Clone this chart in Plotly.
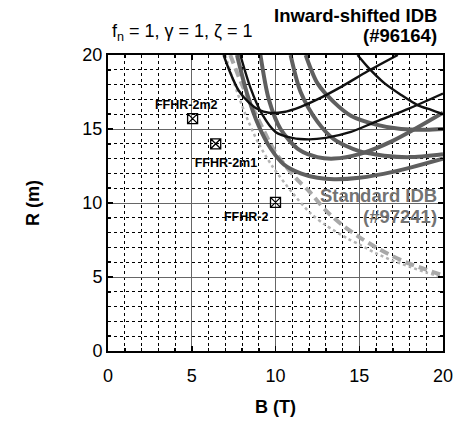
import plotly.graph_objects as go

# ---- data ----
b1_B = [6.9, 7.3, 7.8, 8.4, 9.0, 9.6, 10.5, 11.5, 12.5, 14.0, 15.5, 17.3]
b1_R = [20.0, 18.8, 17.6, 16.8, 16.3, 16.1, 16.15, 16.5, 17.0, 17.9, 18.9, 20.0]

b2_B = [7.9, 8.5, 9.2, 10.0, 11.0, 12.0, 13.0, 14.5, 16.0, 18.0, 20.0]
b2_R = [20.0, 17.8, 16.0, 14.8, 14.4, 14.3, 14.4, 14.8, 15.5, 16.4, 17.4]

b3_B = [14.9, 15.5, 16.5, 17.5, 18.5, 19.3, 20.0]
b3_R = [20.0, 19.2, 18.1, 17.3, 16.6, 16.3, 16.0]

ga_B = [9.1, 9.6, 10.3, 11.4, 12.5, 13.5, 15.0, 17.0, 20.0]
ga_R = [20.0, 17.0, 15.0, 13.6, 13.1, 13.0, 13.3, 14.2, 16.1]

gd_B = [7.7, 8.3, 9.0, 9.7, 10.5, 11.5, 12.5, 13.5, 15.0, 17.0, 20.0]
gd_R = [20.0, 17.4, 15.2, 13.7, 12.6, 12.0, 11.7, 11.6, 11.7, 12.1, 13.0]

gc_B = [10.9, 11.5, 12.5, 13.5, 15.0, 16.5, 18.0, 20.0]
gc_R = [20.0, 17.5, 15.5, 14.3, 13.5, 13.2, 13.1, 13.3]

gb_B = [11.8, 12.5, 13.5, 14.5, 16.0, 17.5, 19.0, 20.0]
gb_R = [20.0, 18.1, 16.8, 15.9, 15.3, 15.0, 14.95, 15.0]

std1_B = [7.3, 8.0, 9.0, 10.0, 11.2, 12.0, 13.0, 14.0, 15.0, 16.0, 17.0, 18.0, 19.0, 20.0]
std1_R = [20.0, 18.0, 15.6, 13.4, 11.7, 10.8, 9.5, 8.5, 7.7, 7.0, 6.4, 5.9, 5.5, 5.1]

std2_B = [7.0, 7.5, 8.2, 9.0, 9.8, 11.0, 12.1, 13.0, 14.3, 15.0, 16.0, 17.0, 18.0, 19.0, 20.0]
std2_R = [20.0, 18.2, 16.0, 14.0, 12.5, 10.7, 9.3, 8.5, 7.6, 7.2, 6.6, 6.1, 5.7, 5.3, 5.0]

dev_names = ["FFHR-2m2", "FFHR-2m1", "FFHR-2"]
dev_B = [5.05, 6.43, 10.0]
dev_R = [15.7, 14.0, 10.04]
lab_B = [4.67, 7.04, 8.25]
lab_R = [16.55, 12.67, 9.0]

FONT = "Liberation Sans, Arial, sans-serif"

fig = go.Figure()

def curve(xs, ys, color, width, dash="solid"):
    fig.add_trace(go.Scatter(x=xs, y=ys, mode="lines",
                             line=dict(color=color, width=width, dash=dash, shape="spline", smoothing=0.8),
                             showlegend=False, hoverinfo="skip"))

curve(std2_B, std2_R, "#b3b3b3", 2.5, "3px,3px")
curve(std1_B, std1_R, "#a8a8a8", 4, "9px,5px")
for xs, ys in [(ga_B, ga_R), (gd_B, gd_R), (gc_B, gc_R), (gb_B, gb_R)]:
    curve(xs, ys, "#5f5f5f", 4)
for xs, ys in [(b1_B, b1_R), (b2_B, b2_R), (b3_B, b3_R)]:
    curve(xs, ys, "#111111", 2.4)

fig.add_trace(go.Scatter(x=dev_B, y=dev_R, mode="markers",
                         marker=dict(symbol="square-x-open", size=10, color="black", line=dict(width=1.3)),
                         showlegend=False, hoverinfo="skip"))
fig.add_trace(go.Scatter(x=lab_B, y=lab_R, mode="text", text=["<b>%s</b>" % n for n in dev_names],
                         textfont=dict(family=FONT, size=12.5, color="black"), showlegend=False, hoverinfo="skip"))

axis_common = dict(
    range=[0, 20], dtick=5, tick0=0,
    showline=True, mirror="allticks", linecolor="black", linewidth=2,
    ticks="inside", ticklen=5, tickwidth=1.5, tickcolor="black",
    showgrid=True, gridcolor="#666666", gridwidth=1,
    zeroline=False,
    tickfont=dict(family=FONT, size=18, color="black"),
    minor=dict(dtick=1, tick0=0, showgrid=True, gridcolor="black", gridwidth=1, griddash="dot",
               ticks="inside", ticklen=3, tickcolor="black"),
    fixedrange=True,
)

fig.update_xaxes(**axis_common, ticklabelstandoff=7,
                 title=dict(text="<b>B (T)</b>", font=dict(family=FONT, size=18, color="black"), standoff=16))
fig.update_yaxes(**axis_common,
                 title=dict(text="<b>R (m)</b>", font=dict(family=FONT, size=18, color="black"), standoff=38))

fig.add_annotation(xref="paper", yref="paper", x=0.988, y=1.133, xanchor="right", yanchor="middle",
                   text="<b>Inward-shifted IDB</b>", showarrow=False,
                   font=dict(family=FONT, size=18.5, color="black"))
fig.add_annotation(xref="paper", yref="paper", x=0.988, y=1.067, xanchor="right", yanchor="middle",
                   text="<b>(#96164)</b>", showarrow=False,
                   font=dict(family=FONT, size=18.5, color="black"))
fig.add_annotation(xref="paper", yref="paper", x=0.006, y=1.077, xanchor="left", yanchor="middle",
                   text="f<sub>n</sub> = 1, γ = 1, ζ = 1", showarrow=False,
                   font=dict(family=FONT, size=18, color="black"))
fig.add_annotation(x=19.75, y=10.53, xanchor="right", yanchor="middle",
                   text="<b>Standard IDB</b>", showarrow=False,
                   font=dict(family=FONT, size=18.5, color="#737373"))
fig.add_annotation(x=19.75, y=9.07, xanchor="right", yanchor="middle",
                   text="<b>(#97241)</b>", showarrow=False,
                   font=dict(family=FONT, size=18.5, color="#737373"))

fig.update_layout(
    width=465, height=426,
    margin=dict(l=108, r=16, t=55, b=67),
    paper_bgcolor="white", plot_bgcolor="white",
    font=dict(family=FONT),
)

fig.write_html("out.html", config={"displayModeBar": False, "staticPlot": True},
               post_script="document.body.style.margin='0';document.body.style.overflow='hidden';")
